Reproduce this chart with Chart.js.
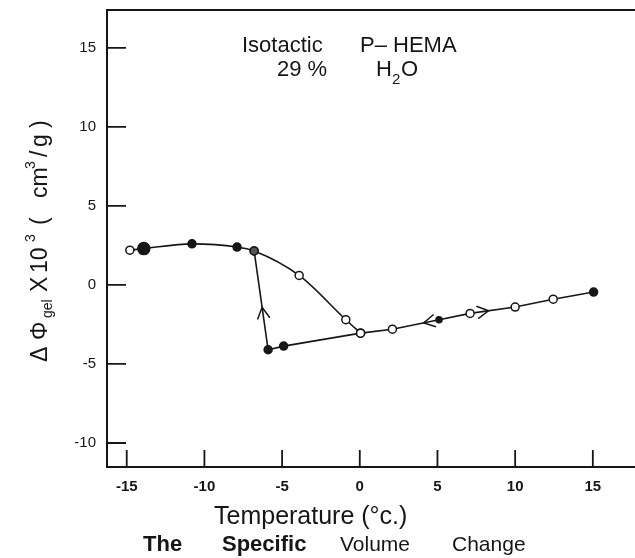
<!DOCTYPE html>
<html>
<head>
<meta charset="utf-8">
<script src="https://cdn.jsdelivr.net/npm/chart.js@4.4.1/dist/chart.umd.min.js"></script>
<style>
  html, body { margin: 0; padding: 0; background: #fff; }
  #c { display: block; }
</style>
</head>
<body>
<canvas id="c" width="635" height="558"></canvas>
<script>
// warming run: frozen gel, melting down to the 0 °C point
const upperT = [-14.8, -13.9, -10.8, -7.9, -6.8, -3.9, -0.9, 0.05];
const upperV = [2.2, 2.3, 2.6, 2.4, 2.15, 0.6, -2.2, -3.05];
const upperFilled = [false, true, true, true, true, false, false, false];

// cooling run: supercooled below 0, then the jump on freezing
const lowerT = [0.05, -4.9, -5.9, -6.8];
const lowerV = [-3.05, -3.87, -4.1, 2.15];
const lowerFilled = [false, true, true, true];

// above the melting point (both directions)
const rightT = [0.05, 2.1, 5.1, 7.1, 10.0, 12.45, 15.05];
const rightV = [-3.05, -2.8, -2.2, -1.8, -1.4, -0.9, -0.45];
const rightFilled = [false, false, true, false, false, false, true];

const xTicks = [-15, -10, -5, 0, 5, 10, 15];
const yTicks = [-10, -5, 0, 5, 10, 15];

// direction arrows: fraction t of the way from point i to point j of a series
const arrows = [
  { series: 1, i: 2, j: 3, t: 0.43 },
  { series: 2, i: 2, j: 1, t: 0.33 },
  { series: 2, i: 3, j: 4, t: 0.41 },
];

const FONT = "'Liberation Sans', Arial, sans-serif";
const INK = '#161616';

function toPoints(xs, ys) {
  return xs.map((x, k) => ({ x: x, y: ys[k] }));
}

function makeSet(xs, ys, filled, extra) {
  return Object.assign({
    data: toPoints(xs, ys),
    borderColor: INK,
    borderWidth: 1.6,
    pointBorderColor: INK,
    pointBorderWidth: 1.5,
    pointRadius: filled.map(() => 4),
    pointBackgroundColor: filled.map(f => f ? INK : '#fff'),
    tension: 0,
    fill: false,
  }, extra || {});
}

const upperSet = makeSet(upperT, upperV, upperFilled, { cubicInterpolationMode: 'monotone' });
upperSet.pointRadius[1] = 6;
upperSet.pointBackgroundColor[4] = '#555';

const lowerSet = makeSet(lowerT, lowerV, lowerFilled);
lowerSet.pointBackgroundColor[3] = '#555';

const rightSet = makeSet(rightT, rightV, rightFilled);
rightSet.pointRadius[2] = 3;

function noPad(s) {
  s.paddingLeft = 0;
  s.paddingRight = 0;
  s.paddingTop = 0;
  s.paddingBottom = 0;
}

// frame (left, top, bottom) with inward ticks
const framePlugin = {
  id: 'frame',
  afterDatasetsDraw(chart) {
    const { ctx, chartArea: a, scales } = chart;
    ctx.save();
    ctx.strokeStyle = INK;
    ctx.lineWidth = 2;
    ctx.beginPath();
    ctx.moveTo(chart.width, a.top);
    ctx.lineTo(a.left, a.top);
    ctx.lineTo(a.left, a.bottom);
    ctx.lineTo(chart.width, a.bottom);
    ctx.stroke();
    ctx.lineWidth = 1.8;
    ctx.beginPath();
    yTicks.forEach(v => {
      const y = scales.y.getPixelForValue(v);
      ctx.moveTo(a.left, y);
      ctx.lineTo(a.left + 19, y);
    });
    xTicks.forEach(v => {
      const x = scales.x.getPixelForValue(v);
      ctx.moveTo(x, a.bottom);
      ctx.lineTo(x, a.bottom - 17);
    });
    ctx.stroke();

    // chevrons showing the direction of the run
    const sets = chart.data.datasets;
    ctx.lineWidth = 1.5;
    arrows.forEach(ar => {
      const d = sets[ar.series].data;
      const p = d[ar.i], q = d[ar.j];
      const x0 = scales.x.getPixelForValue(p.x), y0 = scales.y.getPixelForValue(p.y);
      const x1 = scales.x.getPixelForValue(q.x), y1 = scales.y.getPixelForValue(q.y);
      const tx = x0 + (x1 - x0) * ar.t, ty = y0 + (y1 - y0) * ar.t;
      const ang = Math.atan2(y1 - y0, x1 - x0);
      const L = 13, spread = 0.5;
      ctx.beginPath();
      ctx.moveTo(tx - L * Math.cos(ang - spread), ty - L * Math.sin(ang - spread));
      ctx.lineTo(tx, ty);
      ctx.lineTo(tx - L * Math.cos(ang + spread), ty - L * Math.sin(ang + spread));
      ctx.stroke();
    });
    ctx.restore();
  }
};

// sample label, axis titles and caption
const textPlugin = {
  id: 'texts',
  afterDraw(chart) {
    const ctx = chart.ctx;
    ctx.save();
    ctx.fillStyle = INK;
    ctx.textBaseline = 'alphabetic';
    ctx.textAlign = 'left';

    ctx.font = '22px ' + FONT;
    ctx.fillText('Isotactic', 242, 52);
    ctx.fillText('P\u2013 HEMA', 360, 52);
    ctx.fillText('29 %', 277, 76);
    ctx.fillText('H', 376, 76);
    ctx.font = '15px ' + FONT;
    ctx.fillText('2', 392, 84);
    ctx.font = '22px ' + FONT;
    ctx.fillText('O', 401, 76);

    ctx.font = '25px ' + FONT;
    ctx.fillText('Temperature (\u00b0c.)', 214, 524);

    ctx.font = 'bold 22px ' + FONT;
    ctx.fillText('The', 143, 551);
    ctx.fillText('Specific', 222, 551);
    ctx.font = '21px ' + FONT;
    ctx.fillText('Volume', 340, 551);
    ctx.fillText('Change', 452, 551);

    // rotated y title: ΔΦgel X 10³ ( cm³/ g )
    ctx.translate(47, 362);
    ctx.rotate(-Math.PI / 2);
    const big = '23px ' + FONT, small = '14px ' + FONT;
    const parts = [
      ['\u0394', 0, big, 0],
      ['\u03a6', 22, big, 0],
      ['gel', 44, small, 5],
      ['X', 70, big, 0],
      ['10', 89, big, 0],
      ['3', 120, small, -12],
      ['(', 137, big, 0],
      ['cm', 164, big, 0],
      ['3', 193, small, -12],
      ['/', 205, big, 0],
      ['g', 215, big, 0],
      [')', 234, big, 0],
    ];
    parts.forEach(([s, d, f, dy]) => {
      ctx.font = f;
      ctx.fillText(s, d, dy);
    });
    ctx.restore();
  }
};

new Chart(document.getElementById('c'), {
  type: 'line',
  data: { datasets: [upperSet, lowerSet, rightSet] },
  options: {
    responsive: false,
    animation: false,
    layout: { padding: { top: 10, right: 0, bottom: 0, left: 0 } },
    plugins: { legend: { display: false }, tooltip: { enabled: false } },
    scales: {
      x: {
        type: 'linear',
        min: -16.27,
        max: 17.36,
        afterFit: s => { s.height = 91; noPad(s); },
        afterBuildTicks: s => { s.ticks = xTicks.map(v => ({ value: v })); },
        grid: { display: false },
        border: { display: false },
        ticks: { color: INK, padding: 3, font: { family: FONT, size: 15, weight: 'bold' } },
      },
      y: {
        type: 'linear',
        min: -11.52,
        max: 17.4,
        afterFit: s => { s.width = 107; noPad(s); },
        afterBuildTicks: s => { s.ticks = yTicks.map(v => ({ value: v })); },
        grid: { display: false },
        border: { display: false },
        ticks: { color: INK, padding: 3, font: { family: FONT, size: 15 } },
      },
    },
  },
  plugins: [framePlugin, textPlugin],
});
</script>
</body>
</html>
